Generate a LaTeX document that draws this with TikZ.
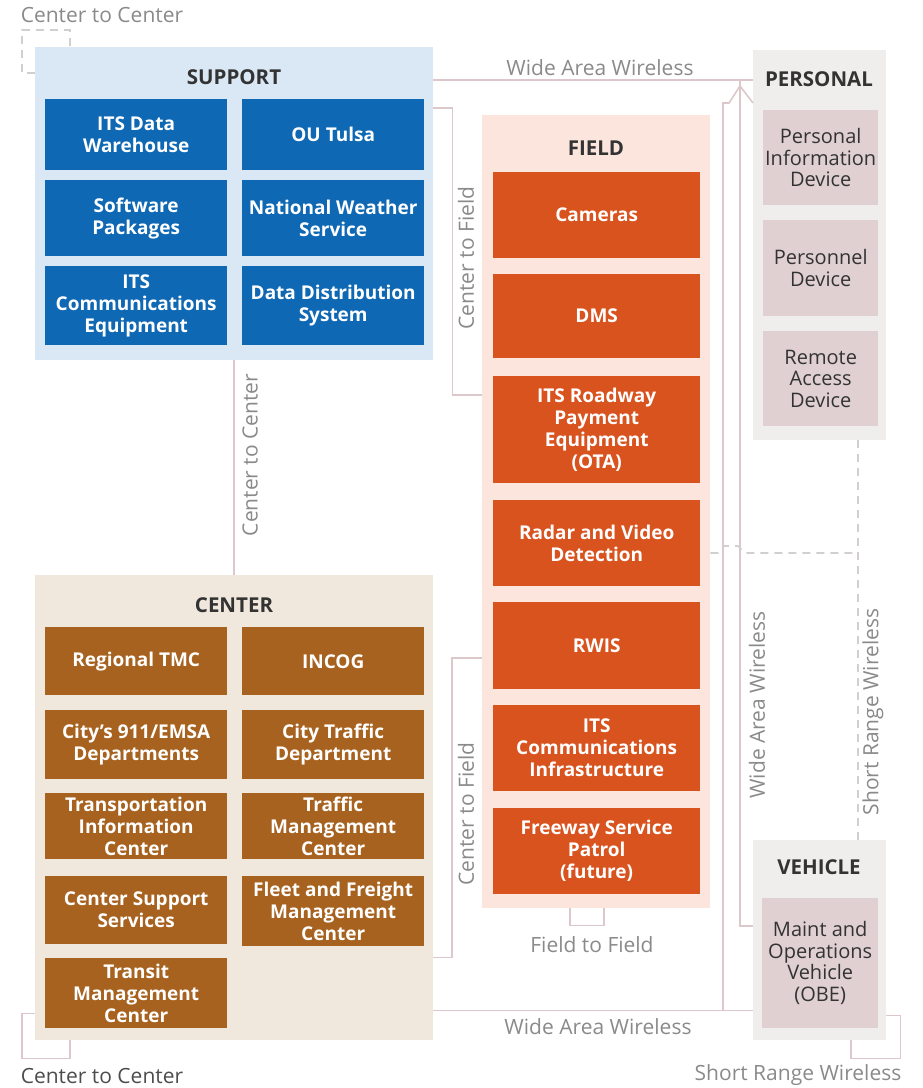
\documentclass[tikz,border=0pt]{standalone}
\usepackage{fontspec}
\setmainfont{Open Sans}
\usepackage{tikz}
\definecolor{supbg}{HTML}{DAE8F5}
\definecolor{supbox}{HTML}{0F68B4}
\definecolor{cenbg}{HTML}{F0E7DD}
\definecolor{cenbox}{HTML}{A8621F}
\definecolor{fldbg}{HTML}{FBE5DD}
\definecolor{fldbox}{HTML}{D9531F}
\definecolor{perbg}{HTML}{EFEEEC}
\definecolor{perbox}{HTML}{E0D0D1}
\definecolor{wirec}{HTML}{DCC8CA}
\definecolor{dashc}{HTML}{D3CFCF}
\definecolor{titlec}{HTML}{333333}
\definecolor{lblc}{HTML}{8A8A8A}
\definecolor{lbldark}{HTML}{4D4D4D}

\begin{document}
\begin{tikzpicture}[x=1pt,y=1pt,
  grp/.style={anchor=north west,inner sep=0pt,fill=#1},
  cell/.style={anchor=north west,inner sep=0pt,align=center,fill=#1,text=white,font=\fontsize{19}{22}\selectfont\bfseries},
  sbox/.style={cell=supbox,minimum width=182pt},
  cbox/.style={cell=cenbox,minimum width=182pt},
  fbox/.style={cell=fldbox,minimum width=207pt},
  pbox/.style={anchor=north west,inner sep=0pt,align=center,fill=perbox,text=titlec,font=\fontsize{20}{21.5}\selectfont,minimum width=115pt},
  grptitle/.style={text=titlec,font=\fontsize{20.5}{22}\selectfont\bfseries},
  wlabel/.style={text=lblc,font=\fontsize{21}{22}\selectfont},
  wire/.style={draw=wirec,line width=1.6pt},
  dwire/.style={draw=dashc,line width=1.6pt,dash pattern=on 8pt off 6pt}]
\useasboundingbox (0,0) rectangle (923,-1088);

\node[grp=supbg,minimum width=398pt,minimum height=313pt] (support) at (35,-47) {};
\node[grptitle] (supttl) at (234,-77) {SUPPORT};
\node[sbox,minimum height=71pt] (warehouse) at (45,-99) {ITS Data\\Warehouse};
\node[sbox,minimum height=71pt] (outulsa) at (242,-99) {OU Tulsa};
\node[sbox,minimum height=76pt] (software) at (45,-180) {Software\\Packages};
\node[sbox,minimum height=76pt] (weather) at (242,-180) {National Weather\\Service};
\node[sbox,minimum height=79pt] (commeq) at (45,-266) {ITS\\Communications\\Equipment};
\node[sbox,minimum height=79pt] (distrib) at (242,-266) {Data Distribution\\System};

\node[grp=cenbg,minimum width=398pt,minimum height=465pt] (center) at (35,-575) {};
\node[grptitle] (centtl) at (234,-605) {CENTER};
\node[cbox,minimum height=68pt] (regtmc) at (45,-627) {Regional TMC};
\node[cbox,minimum height=68pt] (incog) at (242,-627) {INCOG};
\node[cbox,minimum height=69pt] (emsa) at (45,-710) {City’s 911/EMSA\\Departments};
\node[cbox,minimum height=69pt] (citytraffic) at (242,-710) {City Traffic\\Department};
\node[cbox,minimum height=66pt] (tic) at (45,-793) {Transportation\\Information\\Center};
\node[cbox,minimum height=66pt] (tmc) at (242,-793) {Traffic\\Management\\Center};
\node[cbox,minimum height=68pt] (css) at (45,-876) {Center Support\\Services};
\node[cbox,minimum height=70pt] (fleet) at (242,-876) {Fleet and Freight\\Management\\Center};
\node[cbox,minimum height=70pt] (transit) at (45,-958) {Transit\\Management\\Center};

\node[grp=fldbg,minimum width=228pt,minimum height=793pt] (field) at (482,-115) {};
\node[grptitle] (fldttl) at (596,-148) {FIELD};
\node[fbox,minimum height=86pt] (cameras) at (493,-172) {Cameras};
\node[fbox,minimum height=84pt] (dms) at (493,-274) {DMS};
\node[fbox,minimum height=107pt] (payment) at (493,-376) {ITS Roadway\\Payment\\Equipment\\(OTA)};
\node[fbox,minimum height=86pt] (radar) at (493,-500) {Radar and Video\\Detection};
\node[fbox,minimum height=87pt] (rwis) at (493,-602) {RWIS};
\node[fbox,minimum height=86pt] (commfra) at (493,-705) {ITS\\Communications\\Infrastructure};
\node[fbox,minimum height=86pt] (fsp) at (493,-808) {Freeway Service\\Patrol\\(future)};

\node[grp=perbg,minimum width=133pt,minimum height=390pt] (personal) at (753,-50) {};
\node[grptitle] (perttl) at (819,-79) {PERSONAL};
\node[pbox,minimum height=95pt] (pid) at (763,-110) {Personal\\Information\\Device};
\node[pbox,minimum height=96pt] (pdev) at (763,-220) {Personnel\\Device};
\node[pbox,minimum height=95pt] (rad) at (763,-331) {Remote\\Access\\Device};

\node[grp=perbg,minimum width=133pt,minimum height=200pt] (vehicle) at (753,-840) {};
\node[grptitle] (vehttl) at (819,-867) {VEHICLE};
\node[pbox,minimum width=116pt,minimum height=130pt] (mov) at (762,-898) {Maint and\\Operations\\Vehicle\\(OBE)};

\coordinate (wtop) at (740,-80);
\coordinate (wbot) at (723,-1010);
\coordinate (srj) at (858,-553);

\draw[dwire] ([yshift=-26pt]support.north west) -| ++(-13,43) -| ([xshift=35pt]support.north west);
\draw[wire] ([yshift=27pt]center.south west) -| ++(-13,-45) -| ([xshift=35pt]center.south west);
\draw[wire] (support.south) -- (center.north);
\draw[wire] ([yshift=-61pt]support.north east) -- ++(19,0) |- ([yshift=-280pt]field.north west);
\draw[wire] ([yshift=-543pt]field.north west) -- ++(-30,0) |- ([yshift=83pt]center.south east);
\draw[wire] ([xshift=-26pt]field.south) -- ++(0,-17) -| ([xshift=8pt]field.south);
\draw[wire] ([yshift=-33pt]support.north east) -- ([yshift=-30pt]personal.north west);
\draw[wire] (wtop) |- ([yshift=-86pt]vehicle.north west);
\draw[wire] ([yshift=30pt]center.south east) -- ([yshift=30pt]vehicle.south west);
\draw[wire] ([yshift=-53pt]personal.north west) -- (740,-86) -- (729,-103) -| (wbot);
\draw[dwire] (field.east |- srj) -- (718,-553) -- (724,-546) -- (738,-546) -- (745,-553) -- (srj);
\draw[dwire] (personal.south -| srj) -- (vehicle.north -| srj);
\draw[wire] ([yshift=25pt]vehicle.south east) -| ++(14,-43) -| ([xshift=31pt]vehicle.south);

\node[wlabel] (c2ctop) at (102,-15) {Center to Center};
\node[wlabel,text=lbldark] (c2cbot) at (102,-1076) {Center to Center};
\node[wlabel,rotate=90] (c2cmid) at (250,-455) {Center to Center};
\node[wlabel,rotate=90] (c2ftop) at (466,-258) {Center to Field};
\node[wlabel,rotate=90] (c2fbot) at (466,-814) {Center to Field};
\node[wlabel] (f2f) at (592,-945) {Field to Field};
\node[wlabel] (wawtop) at (600,-68) {Wide Area Wireless};
\node[wlabel] (wawbot) at (598,-1027) {Wide Area Wireless};
\node[wlabel,rotate=90] (wawvert) at (757,-705) {Wide Area Wireless};
\node[wlabel,rotate=90] (srwvert) at (873,-712) {Short Range Wireless};
\node[wlabel] (srwbot) at (798,-1075) {Short Range Wireless};
\end{tikzpicture}
\end{document}
